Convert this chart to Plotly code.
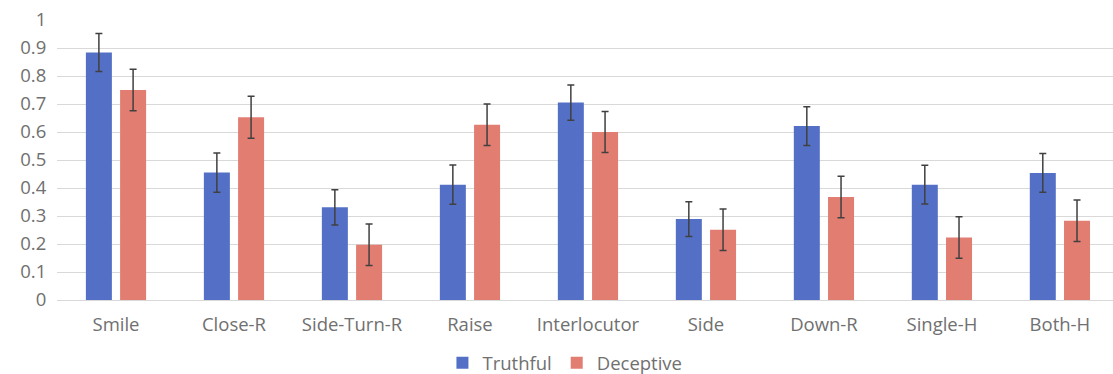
import plotly.graph_objects as go

categories = ["Smile", "Close-R", "Side-Turn-R", "Raise", "Interlocutor", "Side", "Down-R", "Single-H", "Both-H"]
truthful = [0.884, 0.455, 0.331, 0.412, 0.705, 0.289, 0.621, 0.412, 0.454]
truthful_err = [0.068, 0.070, 0.063, 0.070, 0.063, 0.062, 0.069, 0.069, 0.069]
deceptive = [0.750, 0.653, 0.197, 0.626, 0.600, 0.251, 0.368, 0.223, 0.283]
deceptive_err = [0.074, 0.075, 0.074, 0.074, 0.073, 0.074, 0.074, 0.074, 0.074]
y_ticks = [0, 0.1, 0.2, 0.3, 0.4, 0.5, 0.6, 0.7, 0.8, 0.9, 1]
y_tick_labels = ["0", "0.1", "0.2", "0.3", "0.4", "0.5", "0.6", "0.7", "0.8", "0.9", "1"]

err_style = dict(type="data", visible=True, color="#404040", thickness=1.5, width=3.5)
label_font = dict(family="Open Sans, DejaVu Sans, sans-serif", size=18.5, color="#707070")

fig = go.Figure()
fig.add_trace(go.Bar(name="Truthful", x=categories, y=truthful,
                     error_y=dict(array=truthful_err, **err_style),
                     marker=dict(color="#5470C6", line=dict(width=0))))
fig.add_trace(go.Bar(name="Deceptive", x=categories, y=deceptive,
                     error_y=dict(array=deceptive_err, **err_style),
                     marker=dict(color="#E27D72", line=dict(width=0))))

fig.update_layout(
    width=1113, height=374,
    margin=dict(l=57, r=0, t=20, b=74, autoexpand=False),
    paper_bgcolor="white", plot_bgcolor="white",
    barmode="group", bargap=0.42, bargroupgap=0.24,
    font=label_font,
    showlegend=True,
    legend=dict(orientation="h", x=0.481, xanchor="center", y=-0.226, yanchor="middle",
                font=label_font, itemwidth=30, traceorder="normal"),
)
fig.update_yaxes(range=[0, 1.0], tickvals=y_ticks, ticktext=y_tick_labels,
                 showgrid=True, gridcolor="#D9D9D9", gridwidth=1,
                 zeroline=True, zerolinecolor="#D9D9D9", zerolinewidth=1,
                 showline=False, ticks="outside", ticklen=6, tickcolor="rgba(0,0,0,0)",
                 automargin=False, tickfont=label_font)
fig.update_xaxes(range=[-0.5, 8.45], showgrid=False, showline=False,
                 ticks="outside", ticklen=8, tickcolor="rgba(0,0,0,0)", automargin=False,
                 tickfont=label_font)

fig.write_html("out.html", config={"displayModeBar": False},
               post_script="document.body.style.margin='0';document.body.style.padding='0';")
